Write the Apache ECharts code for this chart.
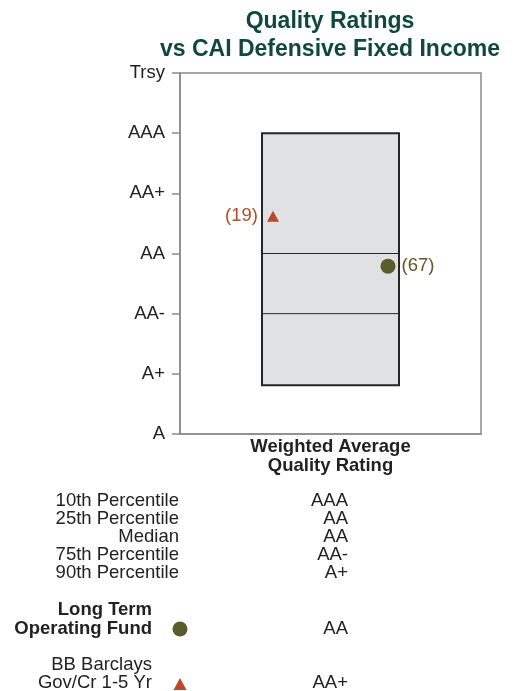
<!DOCTYPE html>
<html><head><meta charset="utf-8">
<script src="https://cdn.jsdelivr.net/npm/echarts@6/dist/echarts.min.js"></script>
<style>html,body{margin:0;padding:0;background:#fff}#c{width:517px;height:691px}</style>
</head><body><div id="c"></div>
<script>
// ---- data ----
const ratingTicks = ['A', 'A+', 'AA-', 'AA', 'AA+', 'AAA', 'Trsy'];
const category = ['Weighted Average\nQuality Rating'];
// percentile positions on the rating scale (0 = A ... 6 = Trsy): [10th, 25th, median, 75th, 90th]
const percentiles = [5.0, 3.0, 3.0, 2.0, 0.81];
const fundValue = [2.79];       // Long Term Operating Fund
const fundRank = ['(67)'];
const benchValue = [3.62];      // BB Barclays Gov/Cr 1-5 Yr
const benchRank = ['(19)'];
const pctLabels = ['10th Percentile', '25th Percentile', 'Median', '75th Percentile', '90th Percentile'];
const pctRatings = ['AAA', 'AA', 'AA', 'AA-', 'A+'];
const fundLabel = ['Long Term', 'Operating Fund'];
const fundRating = 'AA';
const benchLabel = ['BB Barclays', 'Gov/Cr 1-5 Yr'];
const benchRating = 'AA+';

// ---- styles ----
const FONT = '"Liberation Sans", Arial, Helvetica, sans-serif';
const FS = 18.5;
const FUND_COLOR = '#5a5c29';
const BENCH_COLOR = '#b84a27';
const BOX_FILL = '#e0e1e3';
const BOX_BORDER = '#262626';
const AXIS_COLOR = '#8a8a8a';
const TEXT = '#222';

const chart = echarts.init(document.getElementById('c'), null, {renderer: 'canvas'});

const graphics = [];
const txt = (x, y, t, bold) => ({type: 'text', style: {x, y, text: t, textAlign: 'right', textVerticalAlign: 'middle', font: (bold ? 'bold ' : '') + FS + 'px ' + FONT, fill: TEXT}});
pctLabels.forEach((t, i) => {
  graphics.push(txt(179, 501 + i * 18, t));
  graphics.push(txt(348, 501 + i * 18, pctRatings[i]));
});
fundLabel.forEach((t, i) => graphics.push(txt(152, 610 + i * 19, t, true)));
graphics.push({type: 'circle', shape: {cx: 180, cy: 629, r: 7.5}, style: {fill: FUND_COLOR}});
graphics.push(txt(348, 629, fundRating));
benchLabel.forEach((t, i) => graphics.push(txt(152, 665 + i * 18, t)));
graphics.push({type: 'polygon', shape: {points: [[180, 678], [186.5, 690], [173.5, 690]]}, style: {fill: BENCH_COLOR}});
graphics.push(txt(348, 683, benchRating));

function renderBox(params, api) {
  const half = 68.5;
  const top = api.coord([0, percentiles[0]]);
  const bot = api.coord([0, percentiles[4]]);
  const cx = top[0];
  const children = [{
    type: 'rect',
    shape: {x: cx - half, y: top[1], width: half * 2, height: bot[1] - top[1]},
    style: {fill: BOX_FILL, stroke: BOX_BORDER, lineWidth: 2}
  }];
  [1, 2, 3].forEach(k => {
    const y = api.coord([0, percentiles[k]])[1];
    children.push({type: 'line', shape: {x1: cx - half, y1: y, x2: cx + half, y2: y}, style: {stroke: BOX_BORDER, lineWidth: 1}});
  });
  return {type: 'group', children};
}

chart.setOption({
  animation: false,
  backgroundColor: '#fff',
  title: {
    text: 'Quality Ratings\nvs CAI Defensive Fixed Income',
    left: 325, top: 3, textAlign: 'center',
    textStyle: {fontFamily: FONT, fontWeight: 'bold', fontSize: 23, lineHeight: 28, color: '#10493c'}
  },
  grid: {left: 180, top: 73, right: 36, bottom: 257, show: true, borderColor: AXIS_COLOR, borderWidth: 1.5, backgroundColor: 'transparent'},
  xAxis: {
    type: 'category', data: category,
    axisLine: {show: true, lineStyle: {color: AXIS_COLOR, width: 1.5}},
    axisTick: {show: false},
    axisLabel: {margin: 3, fontFamily: FONT, fontWeight: 'bold', fontSize: FS, lineHeight: 19, color: TEXT}
  },
  yAxis: {
    type: 'value', min: 0, max: 6, interval: 1,
    splitLine: {show: false},
    axisLine: {show: true, lineStyle: {color: AXIS_COLOR, width: 1.5}},
    axisTick: {show: true, length: 8, lineStyle: {color: AXIS_COLOR, width: 1.5}},
    axisLabel: {margin: 15, fontFamily: FONT, fontSize: FS, color: TEXT, formatter: v => ratingTicks[v]}
  },
  series: [
    {type: 'custom', data: [0], renderItem: renderBox, silent: true, z: 2},
    {type: 'scatter', symbol: 'triangle', symbolSize: [12, 11], symbolOffset: [-57.5, 0],
     data: benchValue, itemStyle: {color: BENCH_COLOR, opacity: 1}, z: 5,
     label: {show: true, position: 'left', distance: 9, formatter: p => benchRank[p.dataIndex], color: BENCH_COLOR, opacity: 1, fontFamily: FONT, fontSize: FS}},
    {type: 'scatter', symbol: 'circle', symbolSize: 15, symbolOffset: [57.5, 0],
     data: fundValue, itemStyle: {color: FUND_COLOR, opacity: 1}, z: 5,
     label: {show: true, position: 'right', distance: 6, formatter: p => fundRank[p.dataIndex], color: FUND_COLOR, opacity: 1, fontFamily: FONT, fontSize: FS}}
  ],
  graphic: graphics
});
</script></body></html>
